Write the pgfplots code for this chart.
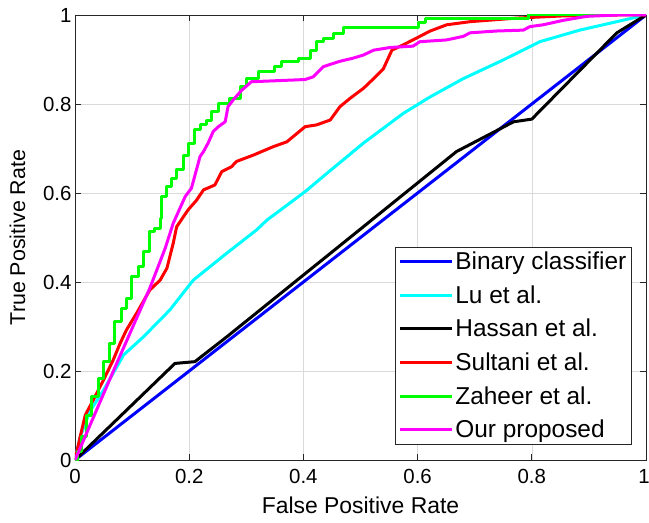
\documentclass[border=0pt]{standalone}
\usepackage{fontspec}
\setmainfont{Liberation Sans}
\usepackage{pgfplots}
\pgfplotsset{compat=1.18}
\definecolor{gridc}{RGB}{218,218,218}
\definecolor{axc}{RGB}{38,38,38}
\begin{document}
\begin{tikzpicture}
\useasboundingbox (-75bp,-63bp) rectangle (574bp,460bp);
\begin{axis}[
  scale only axis,
  width=571bp, height=445bp,
  at={(0,0)}, anchor=south west,
  xmin=0, xmax=1, ymin=0, ymax=1,
  xtick={0,0.2,0.4,0.6,0.8,1},
  ytick={0,0.2,0.4,0.6,0.8,1},
  xticklabels={0,0.2,0.4,0.6,0.8,\hspace*{-4bp}1},
  yticklabels={0,0.2,0.4,0.6,0.8,1},
  tick align=inside,
  major tick length=6bp,
  grid=major,
  grid style={gridc, line width=0.6bp},
  axis line style={axc, line width=0.8bp},
  tick style={axc, line width=0.8bp},
  ticklabel style={font=\fontsize{20.5}{24}\selectfont, text=black},
  xticklabel style={yshift=-6bp},
  xlabel={False Positive Rate},
  ylabel={True Positive Rate},
  xlabel style={font=\fontsize{23}{27}\selectfont, yshift=-6bp},
  ylabel style={font=\fontsize{21.5}{25}\selectfont, yshift=11bp},
  legend style={at={(axis cs:0.975,0.034)}, anchor=south east,
    draw=axc, line width=0.8bp, fill=white,
    font=\fontsize{24.5}{29}\selectfont,
    row sep=10.5bp, inner xsep=3bp, inner ysep=3bp},
  legend cell align=left,
  legend image code/.code={\draw[#1] (0bp,0bp) -- (52bp,0bp);},
  every axis plot/.append style={line width=3bp, line join=round},
]
\addplot[color={rgb,255:red,0;green,0;blue,255}] coordinates {(0,0) (1,1)};
\addlegendentry{Binary classifier}
\addplot[color={rgb,255:red,0;green,255;blue,255}] coordinates {
(0,0) (0.009,0.052) (0.026,0.109) (0.050,0.157) (0.085,0.236) (0.120,0.277)
(0.166,0.337) (0.207,0.404) (0.266,0.465) (0.318,0.517) (0.336,0.539)
(0.403,0.603) (0.441,0.644) (0.505,0.712) (0.575,0.779) (0.622,0.816)
(0.680,0.857) (0.750,0.899) (0.814,0.940) (0.884,0.966) (1,1)};
\addlegendentry{Lu et al.}
\addplot[color=black] coordinates {
(0,0) (0.175,0.217) (0.210,0.221) (0.266,0.277) (0.5,0.519) (0.668,0.693)
(0.768,0.760) (0.800,0.766) (0.949,0.960) (1,1)};
\addlegendentry{Hassan et al.}
\addplot[color={rgb,255:red,255;green,0;blue,0}] coordinates {
(0,0) (0.009,0.052) (0.018,0.101) (0.032,0.135) (0.050,0.180) (0.067,0.225)
(0.079,0.262) (0.090,0.292) (0.108,0.330) (0.131,0.382) (0.149,0.404)
(0.161,0.431) (0.172,0.487) (0.178,0.524) (0.198,0.562) (0.213,0.584)
(0.225,0.607) (0.245,0.618) (0.257,0.648) (0.274,0.659) (0.283,0.671)
(0.312,0.685) (0.347,0.704) (0.371,0.715) (0.403,0.749) (0.423,0.753)
(0.447,0.764) (0.464,0.794) (0.482,0.813) (0.505,0.835) (0.523,0.857)
(0.540,0.879) (0.555,0.921) (0.575,0.933) (0.604,0.952) (0.622,0.964)
(0.651,0.978) (0.692,0.985) (0.773,0.993) (0.855,0.998) (0.95,1) (1,1)};
\addlegendentry{Sultani et al.}
\addplot[color={rgb,255:red,0;green,255;blue,0}, const plot] coordinates {
(0,0) (0.004,0.02) (0.012,0.052) (0.020,0.101) (0.029,0.142) (0.041,0.184)
(0.050,0.221) (0.061,0.262) (0.070,0.311) (0.082,0.341) (0.090,0.363)
(0.099,0.412) (0.111,0.434) (0.120,0.468) (0.131,0.513) (0.140,0.520)
(0.149,0.543) (0.152,0.592) (0.161,0.614) (0.169,0.633) (0.178,0.652)
(0.190,0.685) (0.198,0.712) (0.210,0.742) (0.219,0.753) (0.231,0.764)
(0.239,0.783) (0.251,0.802) (0.271,0.813) (0.289,0.839) (0.301,0.857)
(0.321,0.873) (0.350,0.884) (0.362,0.896) (0.391,0.903) (0.412,0.921)
(0.423,0.940) (0.435,0.947) (0.452,0.958) (0.470,0.972) (0.601,0.983)
(0.613,0.993) (0.794,1.0) (1,1)};
\addlegendentry{Zaheer et al.}
\addplot[color={rgb,255:red,255;green,0;blue,255}] coordinates {
(0,0) (0.073,0.217) (0.131,0.386) (0.158,0.476) (0.172,0.532) (0.193,0.592)
(0.204,0.611) (0.219,0.682) (0.225,0.693) (0.233,0.712) (0.242,0.738)
(0.251,0.749) (0.263,0.760) (0.268,0.794) (0.277,0.809) (0.292,0.831)
(0.309,0.850) (0.403,0.855) (0.417,0.861) (0.435,0.884) (0.464,0.896)
(0.487,0.903) (0.505,0.910) (0.523,0.921) (0.552,0.927) (0.592,0.930)
(0.604,0.940) (0.651,0.944) (0.680,0.952) (0.692,0.960) (0.738,0.964)
(0.785,0.966) (0.797,0.974) (0.820,0.978) (0.855,0.988) (0.896,0.997)
(0.949,1) (1,1)};
\addlegendentry{Our proposed}
\end{axis}
\end{tikzpicture}
\end{document}
